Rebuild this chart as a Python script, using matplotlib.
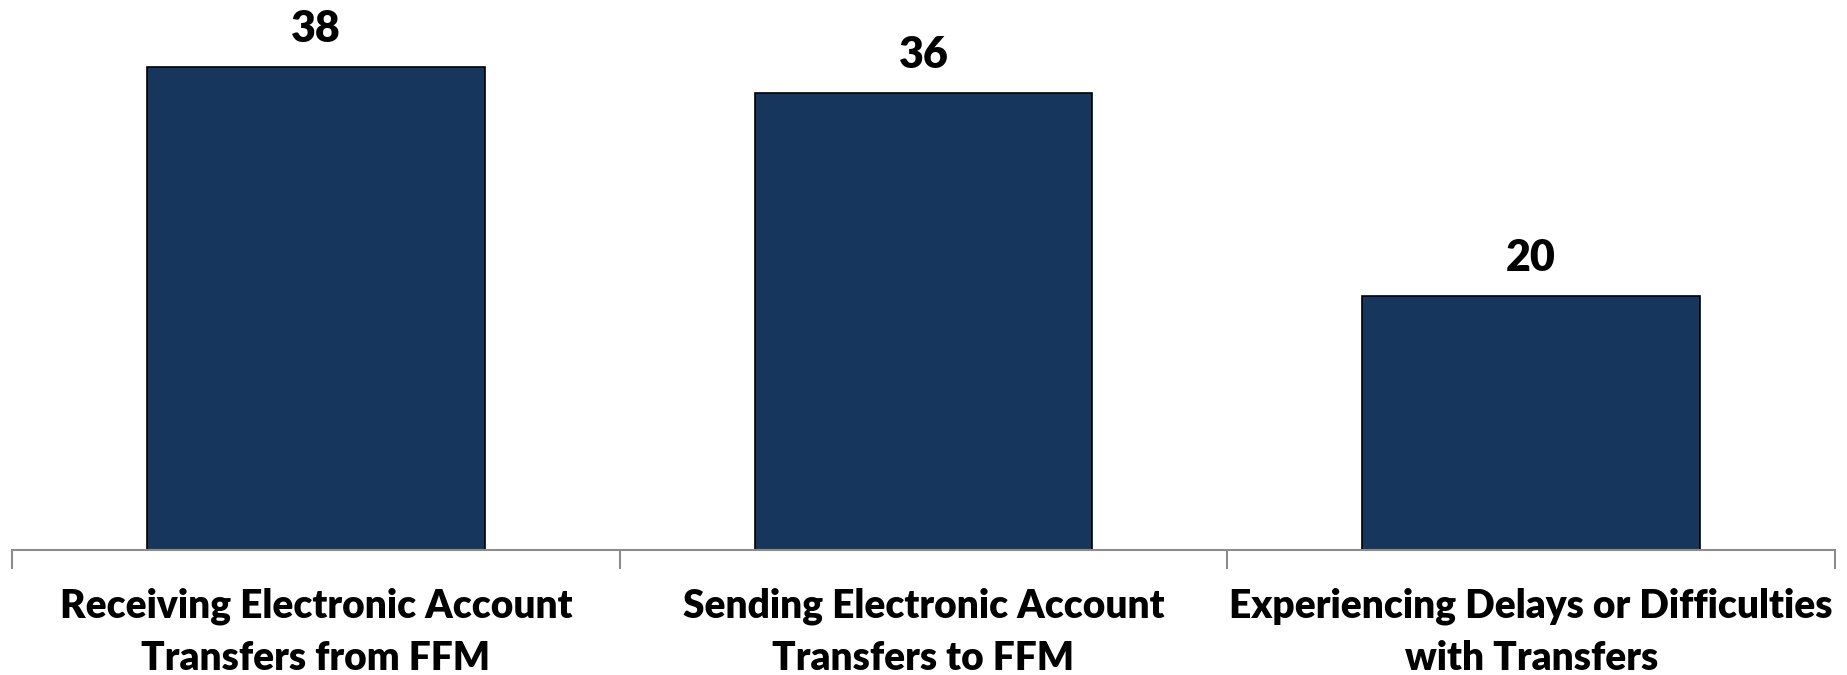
import matplotlib
matplotlib.use("Agg")
import matplotlib.pyplot as plt

categories = ["Receiving Electronic Account\nTransfers from FFM",
              "Sending Electronic Account\nTransfers to FFM",
              "Experiencing Delays or Difficulties\nwith Transfers"]
values = [38, 36, 20]

bar_color = "#17365D"
font = "Lato"

fig = plt.figure(figsize=(18.47, 6.75), dpi=100)
ax = fig.add_axes([12/1847, (675-550)/675, 1823/1847, 550/675])

x = list(range(len(values)))
bars = ax.bar(x, values, width=0.556, color=bar_color, edgecolor="black", linewidth=1.2, zorder=2)

ax.set_xlim(-0.5, len(values) - 0.5)
ax.set_ylim(0, 43.3)

for s in ["top", "right", "left"]:
    ax.spines[s].set_visible(False)
ax.spines["bottom"].set_color("#8c8c8c")
ax.spines["bottom"].set_linewidth(1.5)
ax.set_yticks([])

ax.set_xticks([i - 0.5 for i in range(len(values) + 1)])
ax.set_xticklabels([])
ax.tick_params(axis="x", which="major", direction="out", length=14, width=1.5, color="#8c8c8c")
ax.set_xticks(x, minor=True)
ax.set_xticklabels(categories, minor=True, fontsize=28, fontweight="heavy", family=font,
                   linespacing=1.5)
ax.tick_params(axis="x", which="minor", length=0, pad=27)

for b, v in zip(bars, values):
    ax.annotate(f"{v}", (b.get_x() + b.get_width() / 2, v), xytext=(0, 13),
                textcoords="offset points", ha="center", va="bottom",
                fontsize=31, fontweight="heavy", family=font)

fig.savefig("out.png", dpi=100)
